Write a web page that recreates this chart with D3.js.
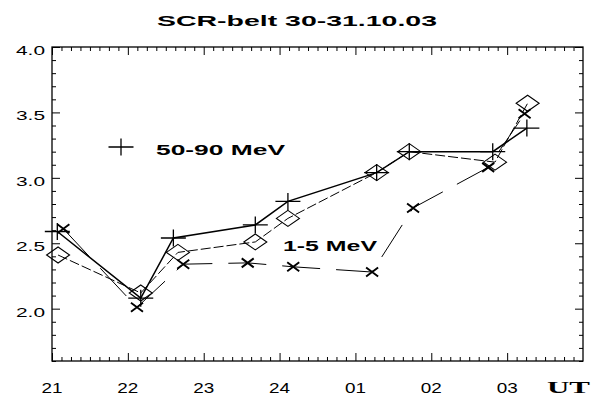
<!DOCTYPE html>
<html>
<head>
<meta charset="utf-8">
<script src="https://cdn.jsdelivr.net/npm/d3@7"></script>
<style>
  html, body { margin: 0; padding: 0; background: #fff; }
  svg { display: block; }
  text { fill: #000; }
</style>
</head>
<body>
<svg id="chart" width="598" height="396"></svg>
<script>
// Hour axis: 21 UT on the 30th through 04 UT on the 31st (hours past midnight counted as 24+)
const hourTicks  = [21, 22, 23, 24, 25, 26, 27];
const hourLabels = ["21", "22", "23", "24", "01", "02", "03"];
const levelTicks  = [2.0, 2.5, 3.0, 3.5, 4.0];
const levelLabels = ["2.0", "2.5", "3.0", "3.5", "4.0"];

// 50-90 MeV (plus markers, solid line)
const highTimes  = [21.07, 22.17, 22.60, 23.68, 24.11, 25.28, 25.71, 26.81, 27.26];
const highValues = [2.59, 2.08, 2.54, 2.64, 2.82, 3.04, 3.20, 3.20, 3.38];

// diamond series (dashed line)
const diamondTimes  = [21.08, 22.17, 22.66, 23.68, 24.11, 25.28, 25.71, 26.84, 27.27];
const diamondValues = [2.41, 2.12, 2.43, 2.51, 2.69, 3.04, 3.20, 3.12, 3.57];

// cross series (long-dashed line)
const crossTimes  = [21.15, 22.12, 22.73, 23.58, 24.18, 25.22, 25.76, 26.75, 27.23];
const crossValues = [2.61, 2.01, 2.34, 2.35, 2.32, 2.28, 2.77, 3.08, 3.49];

const titleText = "SCR-belt 30-31.10.03";
const legendHigh = "50-90 MeV";
const labelLow = "1-5 MeV";
const axisUnit = "UT";

const svg = d3.select("#chart");
const plotLeft = 52, plotRight = 583, plotTop = 47, plotBottom = 361;

const x = d3.scaleLinear().domain([21, 28]).range([plotLeft, plotRight]);
const y = d3.scaleLinear().domain([1.6, 4.0]).range([plotBottom, plotTop]);

const sans = "'Liberation Sans', Arial, sans-serif";

// stretched text helper
function label(g, str, px, py, opts) {
  const t = g.append("text")
    .attr("x", px).attr("y", py)
    .attr("font-family", opts.family || sans)
    .attr("font-size", opts.size)
    .attr("font-weight", opts.weight || "normal")
    .attr("text-anchor", opts.anchor || "start")
    .text(str);
  if (opts.width) t.attr("textLength", opts.width).attr("lengthAdjust", "spacingAndGlyphs");
  return t;
}

// minor tick positions
const minorHours = d3.range(21, 28.0001, 1 / 8).filter(h => Math.abs(h - Math.round(h)) > 1e-6);
const minorLevels = d3.range(16, 41).map(v => v / 10).filter(v => Math.abs(v * 2 - Math.round(v * 2)) > 1e-6);

function styleAxis(g) {
  g.select(".domain").remove();
  g.selectAll(".tick line").attr("stroke", "#000").attr("stroke-width", 1);
  g.selectAll(".tick text").remove();
}

const axes = svg.append("g");
// bottom & top
axes.append("g").attr("transform", `translate(0,${plotBottom})`)
  .call(d3.axisBottom(x).tickValues(hourTicks).tickSizeInner(-8).tickSizeOuter(0)).call(styleAxis);
axes.append("g").attr("transform", `translate(0,${plotBottom})`)
  .call(d3.axisBottom(x).tickValues(minorHours).tickSizeInner(-4).tickSizeOuter(0)).call(styleAxis);
axes.append("g").attr("transform", `translate(0,${plotTop})`)
  .call(d3.axisTop(x).tickValues(hourTicks).tickSizeInner(-8).tickSizeOuter(0)).call(styleAxis);
axes.append("g").attr("transform", `translate(0,${plotTop})`)
  .call(d3.axisTop(x).tickValues(minorHours).tickSizeInner(-4).tickSizeOuter(0)).call(styleAxis);
// left & right
axes.append("g").attr("transform", `translate(${plotLeft},0)`)
  .call(d3.axisLeft(y).tickValues(levelTicks).tickSizeInner(-8).tickSizeOuter(0)).call(styleAxis);
axes.append("g").attr("transform", `translate(${plotLeft},0)`)
  .call(d3.axisLeft(y).tickValues(minorLevels).tickSizeInner(-4).tickSizeOuter(0)).call(styleAxis);
axes.append("g").attr("transform", `translate(${plotRight},0)`)
  .call(d3.axisRight(y).tickValues(levelTicks).tickSizeInner(-8).tickSizeOuter(0)).call(styleAxis);
axes.append("g").attr("transform", `translate(${plotRight},0)`)
  .call(d3.axisRight(y).tickValues(minorLevels).tickSizeInner(-4).tickSizeOuter(0)).call(styleAxis);

axes.append("rect")
  .attr("x", plotLeft).attr("y", plotTop)
  .attr("width", plotRight - plotLeft).attr("height", plotBottom - plotTop)
  .attr("fill", "none").attr("stroke", "#000").attr("stroke-width", 1.3);

// tick labels
const labels = svg.append("g");
hourTicks.forEach((h, i) => {
  label(labels, hourLabels[i], x(h), 393, { size: 15, anchor: "middle", width: 21 });
});
levelTicks.forEach((v, i) => {
  label(labels, levelLabels[i], 45, y(v) + 8, { size: 13, anchor: "end", width: 29 });
});
label(labels, axisUnit, 547, 393, { size: 16, width: 43, weight: "bold", family: "'Liberation Serif', 'Times New Roman', serif" });

// title
label(svg, titleText, 157, 26, { size: 15, weight: "bold", width: 280 });

// lines
const lineOf = (times, values) => d3.line()(times.map((t, i) => [x(t), y(values[i])]));
const lines = svg.append("g").attr("fill", "none").attr("stroke", "#000");
lines.append("path").attr("d", lineOf(crossTimes, crossValues))
  .attr("stroke-width", 1).attr("stroke-dasharray", "38,16");
lines.append("path").attr("d", lineOf(diamondTimes, diamondValues))
  .attr("stroke-width", 1).attr("stroke-dasharray", "10,3");
lines.append("path").attr("d", lineOf(highTimes, highValues))
  .attr("stroke-width", 1.5);

// markers
const diamondPath = "M0,-8L11.5,0L0,8L-11.5,0Z";
const plusPath = "M-12.5,0H12.5M0,-8.5V8.5";
const crossPath = "M-6,-4.5L6,4.5M-6,4.5L6,-4.5";

svg.append("g").selectAll("path").data(diamondTimes).join("path")
  .attr("d", diamondPath)
  .attr("transform", (t, i) => `translate(${x(t)},${y(diamondValues[i])})`)
  .attr("fill", "none").attr("stroke", "#000").attr("stroke-width", 1.1);
svg.append("g").selectAll("path").data(highTimes).join("path")
  .attr("d", plusPath)
  .attr("transform", (t, i) => `translate(${x(t)},${y(highValues[i])})`)
  .attr("fill", "none").attr("stroke", "#000").attr("stroke-width", 1.3);
svg.append("g").selectAll("path").data(crossTimes).join("path")
  .attr("d", crossPath)
  .attr("transform", (t, i) => `translate(${x(t)},${y(crossValues[i])})`)
  .attr("fill", "none").attr("stroke", "#000").attr("stroke-width", 1.9);

// legend and series label
svg.append("path").attr("d", plusPath)
  .attr("transform", "translate(121,147)")
  .attr("fill", "none").attr("stroke", "#000").attr("stroke-width", 1.3);
label(svg, legendHigh, 156, 155, { size: 15, weight: "bold", width: 129 });
label(svg, labelLow, 283, 251, { size: 15, weight: "bold", width: 94 });
</script>
</body>
</html>
